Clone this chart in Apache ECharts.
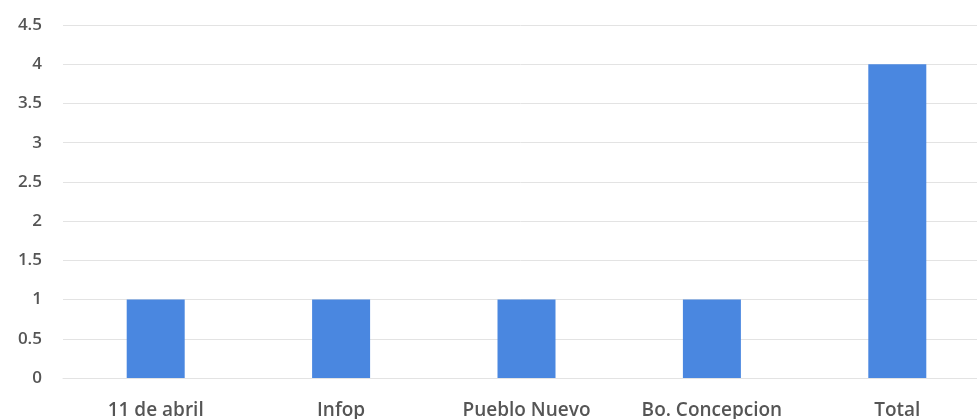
<!DOCTYPE html>
<html>
<head>
<meta charset="utf-8">
<script src="https://cdn.jsdelivr.net/npm/echarts@6/dist/echarts.min.js"></script>
<style>
html,body{margin:0;padding:0;background:#fff;overflow:hidden;}
#c{width:977px;height:419px;}
</style>
</head>
<body>
<div id="c"></div>
<script>
const categories = ["11 de abril", "Infop", "Pueblo Nuevo", "Bo. Concepcion", "Total"];
const values = [1, 1, 1, 1, 4];

const chart = echarts.init(document.getElementById('c'), null, {renderer: 'canvas'});
chart.setOption({
  backgroundColor: '#ffffff',
  animation: false,
  grid: {left: 63, right: -13, top: 25, bottom: 41, containLabel: false, outerBoundsMode: 'none'},
  xAxis: {
    type: 'category',
    data: categories,
    axisLine: {show: true, lineStyle: {color: '#e3e3e3'}},
    axisTick: {show: false},
    axisLabel: {color: '#555555', fontFamily: 'Open Sans', fontSize: 19, fontWeight: 600, margin: 23}
  },
  yAxis: {
    type: 'value',
    min: 0, max: 4.5, interval: 0.5,
    axisLine: {show: false},
    axisTick: {show: false},
    splitLine: {lineStyle: {color: '#e3e3e3', width: 1}},
    axisLabel: {color: '#555555', fontFamily: 'Open Sans', fontSize: 17, fontWeight: 600, margin: 21}
  },
  series: [{
    type: 'bar',
    data: values,
    barWidth: 58,
    itemStyle: {color: '#4a87e0'}
  }]
});
</script>
</body>
</html>
